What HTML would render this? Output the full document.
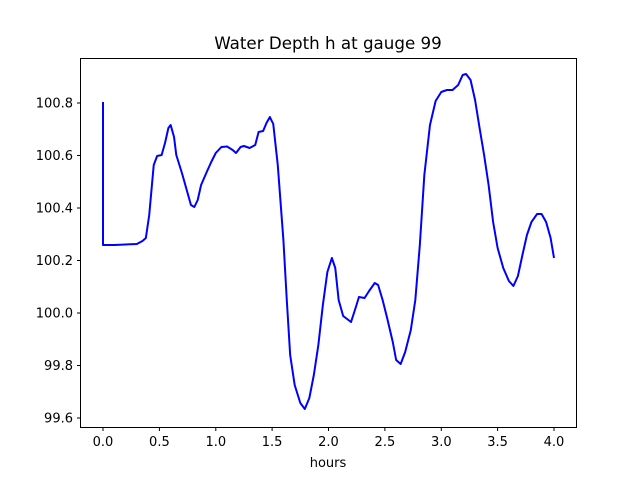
<!DOCTYPE html>
<html><head><style>body{margin:0;background:#fff}svg{display:block}</style></head><body>
<svg width="640" height="480" xmlns="http://www.w3.org/2000/svg" font-family="DejaVu Sans, sans-serif">
<rect width="640" height="480" fill="#fff"/>
<text x="328" y="49" font-size="16.7" text-anchor="middle">Water Depth h at gauge 99</text>
<g transform="translate(103,0) scale(112.75,1)">
<polyline fill="none" stroke="#0000ff" stroke-width="2" vector-effect="non-scaling-stroke" stroke-linejoin="round"
points="0,102 0,245 0.1,245 0.2,244.5 0.3,244 0.35,241 0.38,238 0.41,215 0.45,165 0.48,156 0.52,155 0.55,143 0.58,128 0.6,125 0.63,137 0.65,155 0.7,173 0.75,193 0.78,205 0.81,207 0.84,200 0.87,185 0.92,172 0.96,162 1.0,153 1.05,147 1.1,146.5 1.15,150 1.18,153 1.22,147 1.25,146 1.3,148 1.35,145 1.38,132 1.42,131 1.45,123 1.48,117 1.51,124 1.55,165 1.6,240 1.63,300 1.66,355 1.7,385 1.75,403 1.79,409 1.83,398 1.87,375 1.91,345 1.95,305 1.99,272 2.03,258 2.06,268 2.09,300 2.13,316 2.2,322 2.24,308 2.27,297 2.32,298 2.36,291 2.41,283 2.44,285 2.48,300 2.52,318 2.57,342 2.6,360 2.64,364 2.68,352 2.73,330 2.77,300 2.81,245 2.85,175 2.9,125 2.95,101 3.0,92 3.05,90 3.1,90 3.15,85 3.19,75 3.22,74 3.26,80 3.3,100 3.34,128 3.38,155 3.42,185 3.46,222 3.5,248 3.55,268 3.6,281 3.64,286 3.68,276 3.72,255 3.76,235 3.8,222 3.85,214 3.89,214 3.93,222 3.97,238 4.0,258"/>
</g>
<rect x="80.5" y="58.5" width="496" height="369" fill="none" stroke="#000" stroke-width="1"/>
<g stroke="#000" stroke-width="1">
<line x1="103" y1="428" x2="103" y2="431"/><line x1="159.4" y1="428" x2="159.4" y2="431"/><line x1="215.8" y1="428" x2="215.8" y2="431"/><line x1="272.1" y1="428" x2="272.1" y2="431"/><line x1="328.5" y1="428" x2="328.5" y2="431"/><line x1="384.9" y1="428" x2="384.9" y2="431"/><line x1="441.3" y1="428" x2="441.3" y2="431"/><line x1="497.6" y1="428" x2="497.6" y2="431"/><line x1="554" y1="428" x2="554" y2="431"/>
<line x1="77" y1="103" x2="80" y2="103"/><line x1="77" y1="155.5" x2="80" y2="155.5"/><line x1="77" y1="208" x2="80" y2="208"/><line x1="77" y1="260.5" x2="80" y2="260.5"/><line x1="77" y1="313" x2="80" y2="313"/><line x1="77" y1="365.5" x2="80" y2="365.5"/><line x1="77" y1="418" x2="80" y2="418"/>
</g>
<g font-size="13" text-anchor="middle">
<text x="103" y="446">0.0</text><text x="159.4" y="446">0.5</text><text x="215.8" y="446">1.0</text><text x="272.1" y="446">1.5</text><text x="328.5" y="446">2.0</text><text x="384.9" y="446">2.5</text><text x="441.3" y="446">3.0</text><text x="497.6" y="446">3.5</text><text x="554" y="446">4.0</text>
<text x="328" y="467">hours</text>
</g>
<g font-size="13" text-anchor="end">
<text x="73" y="107.5">100.8</text><text x="73" y="160">100.6</text><text x="73" y="212.5">100.4</text><text x="73" y="265">100.2</text><text x="73" y="317.5">100.0</text><text x="73" y="370">99.8</text><text x="73" y="422.5">99.6</text>
</g>
</svg>
</body></html>
